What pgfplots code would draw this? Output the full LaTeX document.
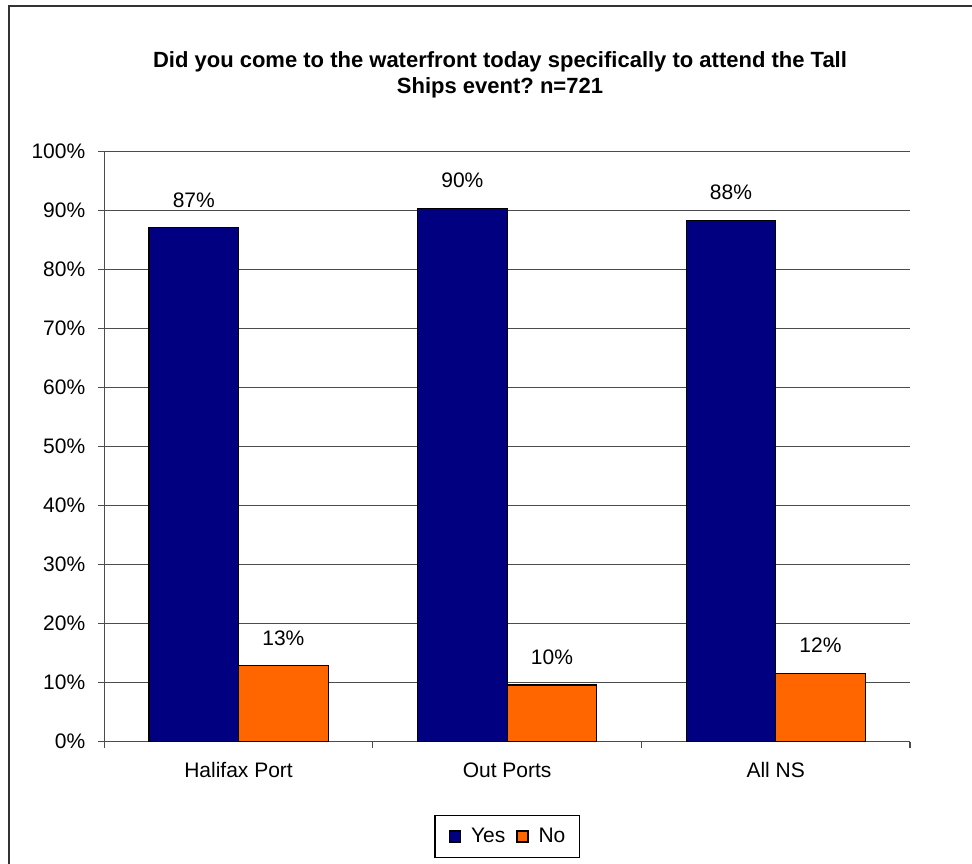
\documentclass[border=0pt]{standalone}
\usepackage{fontspec}
\setmainfont{Liberation Sans}
\usepackage{pgfplots}
\pgfplotsset{compat=1.18}
\definecolor{yesc}{HTML}{000080}
\definecolor{noc}{HTML}{FF6600}
\frenchspacing
\begin{document}
\begin{tikzpicture}
\useasboundingbox (0,0) rectangle (486pt,431.5pt);
\draw[line width=1pt, black!80] (4.5pt,-2pt) -- (4.5pt,428.5pt) -- (490pt,428.5pt);
\node[align=center, font=\fontsize{11}{13}\selectfont\bfseries] at (250pt,394pt)
  {Did you come to the waterfront today specifically to attend the Tall\\Ships event? n=721};
\begin{axis}[
  at={(52.15pt,60.65pt)}, anchor=south west,
  scale only axis, width=402.85pt, height=295pt,
  xmin=-0.5, xmax=2.5, ymin=0, ymax=100,
  ybar, bar width=0.3333,
  axis x line*=bottom, axis y line*=left,
  axis line style={black!70, line width=0.6pt, -},
  tick align=outside, major tick length=3pt,
  tick style={black!70, line width=0.6pt},
  /pgf/number format/assume math mode=true,
  ytick={0,10,...,100},
  yticklabel={\pgfmathprintnumber{\tick}\%},
  yticklabel style={xshift=-3pt},
  every tick label/.append style={font=\fontsize{10.5}{12}\selectfont},
  xtick={-0.5,0.5,1.5,2.5}, xticklabels={,,,},
  extra x ticks={0,1,2},
  extra x tick labels={Halifax Port,Out Ports,All NS},
  extra x tick style={major tick length=0pt, xticklabel style={yshift=-7pt}},
  ymajorgrids, grid style={black!70, line width=0.6pt},
  nodes near coords, point meta=explicit symbolic,
  every node near coord/.append style={text=black, font=\fontsize{10.5}{12}\selectfont, yshift=6.5pt},
  legend style={at={(0.5,-0.1605)}, anchor=center, legend columns=2, draw=black, line width=0.6pt,
    font=\fontsize{10.5}{12}\selectfont, inner xsep=7pt, inner ysep=4.2pt,
    nodes={inner xsep=0pt, inner ysep=2pt},
    /tikz/every odd column/.append style={column sep=5pt},
    /tikz/every even column/.append style={column sep=5.5pt}},
  legend image code/.code={\draw[#1, draw=black, line width=0.6pt] (0pt,-2.75pt) rectangle (5.5pt,2.75pt);},
]
\addplot[fill=yesc, draw=black, line width=0.6pt, bar shift=-0.16667]
  coordinates {(0,87.1) [87\%] (1,90.4) [90\%] (2,88.4) [88\%]};
\addplot[fill=noc, draw=black, line width=0.6pt, bar shift=0.16667]
  coordinates {(0,12.9) [13\%] (1,9.6) [10\%] (2,11.6) [12\%]};
\legend{Yes,No}
\end{axis}
\end{tikzpicture}
\end{document}
